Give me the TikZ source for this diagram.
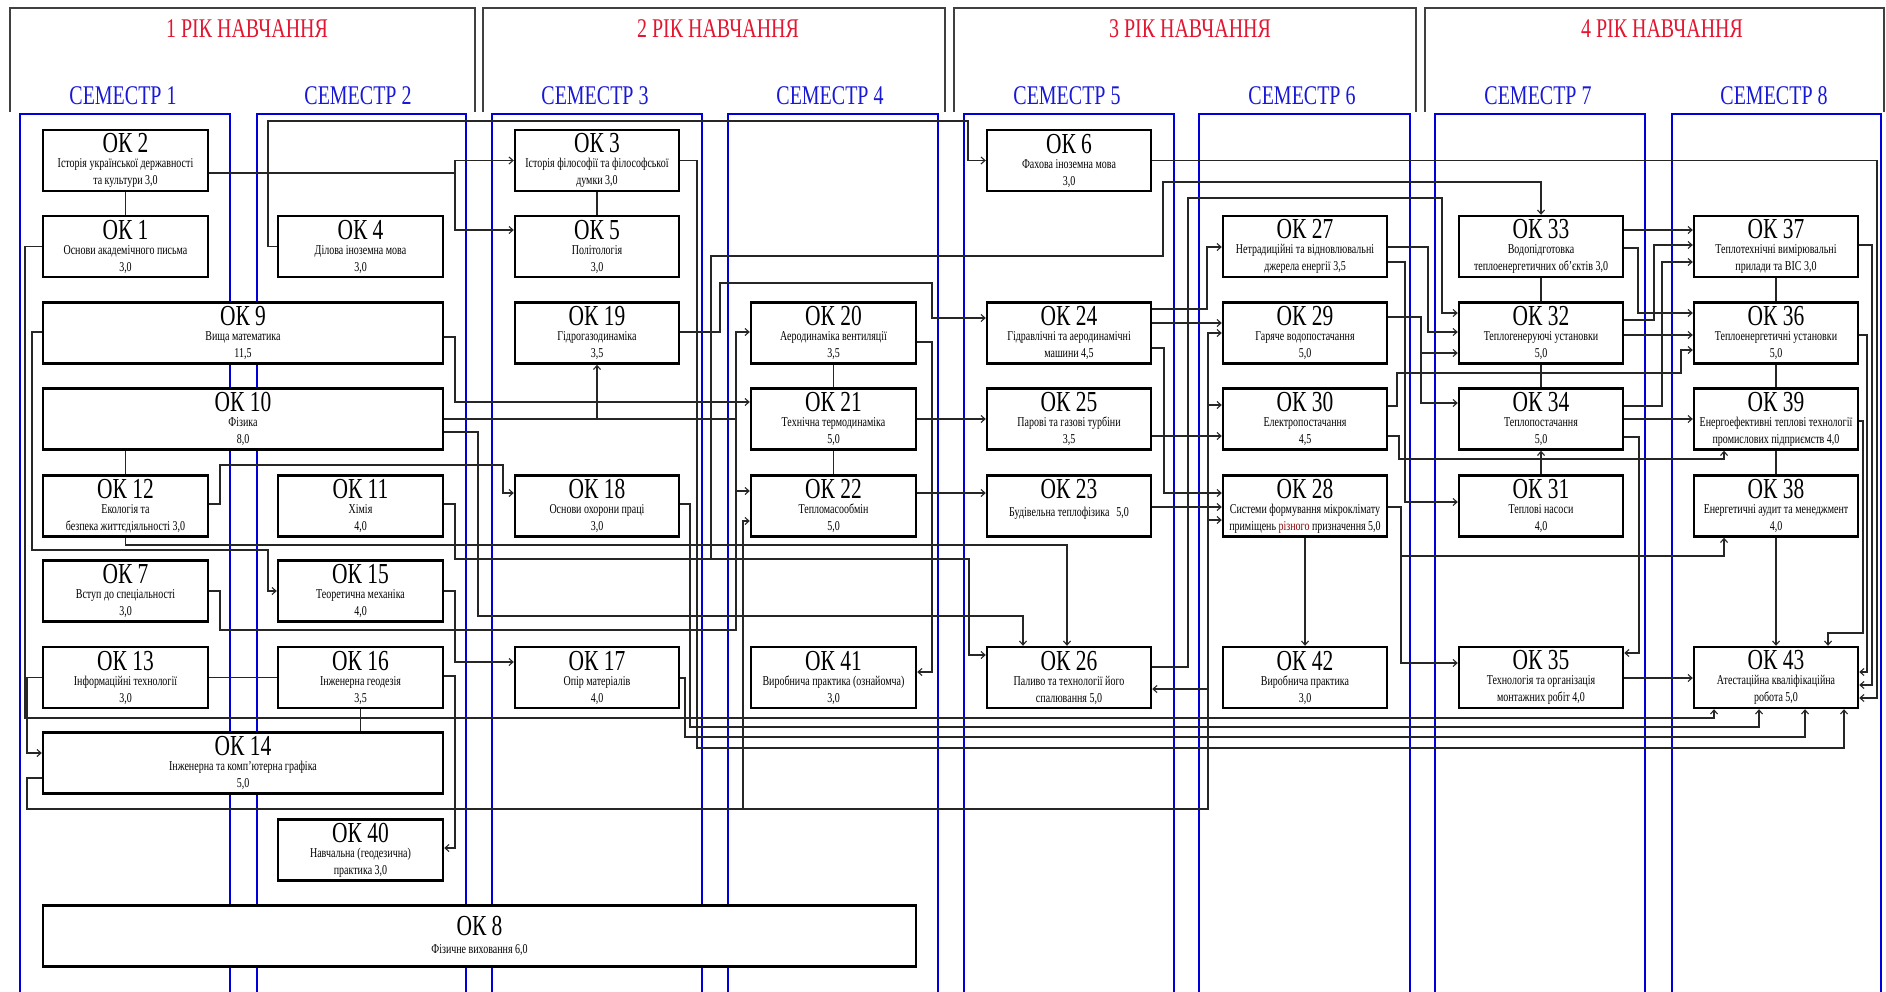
\documentclass[tikz,border=0pt]{standalone}
\usepackage{fontspec}
\setmainfont{Liberation Serif}[FakeStretch=0.74]
\usetikzlibrary{arrows.meta}

\definecolor{headred}{RGB}{226,22,48}
\definecolor{semblue}{RGB}{24,24,214}
\definecolor{frameblue}{RGB}{0,0,220}

\tikzset{
	okbox/.style={rectangle, draw, fill=white, line width=2.4pt, minimum height=61pt, inner sep=0pt, align=center, font=\fontsize{13.5}{17}\selectfont},
	link/.style={draw=black!85, line width=1.1pt},
	arr/.style={link, -{Straight Barb[length=4pt,width=7pt]}},
	semframe/.style={draw=frameblue, line width=2.6pt},
	yearframe/.style={draw=black!75, line width=1.2pt},
	yeartext/.style={anchor=base, inner sep=0pt, text=headred, font=\fontsize{27}{30}\selectfont},
	semtext/.style={anchor=base, inner sep=0pt, text=semblue, font=\fontsize{27}{30}\selectfont},
}
\newcommand\oktitle[1]{{\fontsize{29}{29}\selectfont #1}}

\begin{document}
\begin{tikzpicture}[x=1pt, y=-1pt]
\useasboundingbox (0,0) rectangle (1886,992);

\foreach \a/\b in {10/475, 483/945, 954/1416, 1425/1884}{
	\draw[yearframe] (\a,112) |- (\b,8) -- (\b,112);
}
\foreach \k/\x in {1/247, 2/718, 3/1190, 4/1662}{
	\node[yeartext] (year\k) at (\x,38) {\k\ РІК НАВЧАННЯ};
}
\foreach \a/\b in {20/230, 257/466, 492/702, 728/938, 964/1174, 1199/1410, 1435/1645, 1672/1881}{
	\draw[semframe] (\a,1000) |- (\b,114) -- (\b,1000);
}
\foreach \k/\x in {1/123, 2/358, 3/595, 4/830, 5/1067, 6/1302, 7/1538, 8/1774}{
	\node[semtext] (sem\k) at (\x,105) {СЕМЕСТР \k};
}

\foreach \n/\x/\y/\w/\a/\b in {
	2/125.5/160.5/165/{Історія української державності}/{та культури 3,0}%
	,1/125.5/246.5/165/{Основи академічного письма}/{3,0}%
	,4/360.5/246.5/165/{Ділова іноземна мова}/{3,0}%
	,9/243/333/400/{Вища математика}/{11,5}%
	,10/243/419/400/{Фізика}/{8,0}%
	,12/125.5/506/165/{Екологія та}/{безпека життєдіяльності 3,0}%
	,11/360.5/506/165/{Хімія}/{4,0}%
	,7/125.5/591/165/{Вступ до спеціальності}/{3,0}%
	,15/360.5/591/165/{Теоретична механіка}/{4,0}%
	,13/125.5/677.5/165/{Інформаційні технології}/{3,0}%
	,16/360.5/677.5/165/{Інженерна геодезія}/{3,5}%
	,14/243/763/400/{Інженерна та комп'ютерна графіка}/{5,0}%
	,40/360.5/850/165/{Навчальна (геодезична)}/{практика 3,0}%
	,3/597/160.5/164/{Історія філософії та філософської}/{думки 3,0}%
	,5/597/246.5/164/{Політологія}/{3,0}%
	,19/597/333/164/{Гідрогазодинаміка}/{3,5}%
	,20/833.5/333/165/{Аеродинаміка вентиляції}/{3,5}%
	,21/833.5/419/165/{Технічна термодинаміка}/{5,0}%
	,18/597/506/164/{Основи охорони праці}/{3,0}%
	,22/833.5/506/165/{Тепломасообмін}/{5,0}%
	,17/597/677.5/164/{Опір матеріалів}/{4,0}%
	,41/833.5/677.5/165/{Виробнича практика (ознайомча)}/{3,0}%
	,6/1069/160.5/164/{Фахова іноземна мова}/{3,0}%
	,27/1305/246.5/164/{Нетрадиційні та відновлювальні}/{джерела енергії 3,5}%
	,24/1069/333/164/{Гідравлічні та аеродинамічні}/{машини 4,5}%
	,29/1305/333/164/{Гаряче водопостачання}/{5,0}%
	,25/1069/419/164/{Парові та газові турбіни}/{3,5}%
	,30/1305/419/164/{Електропостачання}/{4,5}%
	,28/1305/506/164/{Системи формування мікроклімату}/{приміщень \textcolor{red!55!black}{різного} призначення 5,0}%
	,26/1069/677.5/164/{Паливо та технології його}/{спалювання 5,0}%
	,42/1305/677.5/164/{Виробнича практика}/{3,0}%
	,33/1541/246.5/164/{Водопідготовка}/{теплоенергетичних об'єктів 3,0}%
	,37/1776/246.5/164/{Теплотехнічні вимірювальні}/{прилади та ВІС 3,0}%
	,32/1541/333/164/{Теплогенеруючі установки}/{5,0}%
	,36/1776/333/164/{Теплоенергетичні установки}/{5,0}%
	,34/1541/419/164/{Теплопостачання}/{5,0}%
	,39/1776/419/164/{Енергоефективні теплові технології}/{промислових підприємств 4,0}%
	,31/1541/506/164/{Теплові насоси}/{4,0}%
	,38/1776/506/164/{Енергетичні аудит та менеджмент}/{4,0}%
	,35/1541/677.5/164/{Технологія та організація}/{монтажних робіт 4,0}%
	,43/1776/677.5/164/{Атестаційна кваліфікаційна}/{робота 5,0}%
}{
	\node[okbox, minimum width=\w] (ok\n) at (\x,\y) {\oktitle{ОК \n}\\[-2pt]\a\\\b};
}
\node[okbox, minimum width=164] (ok23) at (1069,506) {\oktitle{ОК 23}\\[1pt]Будівельна теплофізика\enspace 5,0\\\mbox{}};
\node[okbox, minimum width=873] (ok8) at (479.5,936) {\oktitle{ОК 8}\\[1pt]Фізичне виховання 6,0};

\foreach \u/\v in {ok2/ok1, ok3/ok5, ok20/ok21, ok21/ok22, ok33/ok32, ok32/ok34, ok37/ok36, ok36/ok39, ok39/ok38, ok13/ok16}{
	\draw[link] (\u) -- (\v);
}
\draw[link] (ok12.north |- ok10.south) -- (ok12.north);
\draw[link] (ok16.south) -- (ok16.south |- ok14.north);

\draw[arr] (ok2.east |- 0,173) -| (455,160.5) -- (ok3.west);
\draw[arr] (455,173) |- (ok5.west |- 0,230);
\draw[arr] (ok4.west) -| (268,121) -| (968,160.5) -- (ok6.west);
\draw[arr] (ok1.west) -| (25,718) -| (1714,0 |- ok43.south);
\draw[arr] (ok9.west |- 0,332) -| (32,550) -| (268,591) -- (ok15.west);
\draw[arr] (ok9.east |- 0,337) -| (455,402) -- (ok21.west |- 0,402);
\draw[arr] (ok10.east |- 0,419) -| (ok19.south);
\draw[link] (597,419) -- (736,419);
\draw[arr] (ok10.east |- 0,432) -| (478,616) -| (1023,0 |- ok26.north);
\draw[arr] (ok12.east |- 0,504) -| (220,465) -| (503,493) -- (ok18.west |- 0,493);
\draw[arr] (ok12.south) |- (1067,545) -- (1067,0 |- ok26.north);
\draw[arr] (ok11.east |- 0,504) -| (455,559) -| (969,655) -- (ok26.west |- 0,655);
\draw[arr] (711,559) |- (1163,256) |- (1541,182) -- (ok33.north);
\draw[arr] (ok7.east |- 0,591) -| (220,630) -| (736,332) -- (ok20.west |- 0,332);
\draw[arr] (736,491) -- (ok22.west |- 0,491);
\draw[arr] (ok13.west) -| (27,753) -- (ok14.west |- 0,753);
\draw[arr] (ok14.west |- 0,778) -| (27,809) -| (1208,333) -- (ok29.west |- 0,333);
\draw[arr] (743,809) |- (ok22.west |- 0,521);
\draw[arr] (1208,405) -- (ok30.west |- 0,405);
\draw[arr] (1208,520) -- (ok28.west |- 0,520);
\draw[arr] (1208,689) -- (ok26.east |- 0,689);
\draw[arr] (ok16.east |- 0,676) -| (455,848) -- (ok40.east |- 0,848);
\draw[arr] (ok15.east) -| (455,662) -- (ok17.west |- 0,662);
\draw[arr] (ok3.east) -| (697,748) -| (1844,0 |- ok43.south);
\draw[arr] (ok18.east |- 0,504) -| (690,727) -| (1759,0 |- ok43.south);
\draw[arr] (ok17.east |- 0,678) -| (685,737) -| (1805,0 |- ok43.south);
\draw[arr] (ok19.east |- 0,332) -| (720,283) -| (932,318) -- (ok24.west |- 0,318);
\draw[arr] (ok20.east |- 0,342) -| (932,672) -- (ok41.east |- 0,672);
\draw[arr] (ok21) -- (ok25);
\draw[arr] (ok22.east |- 0,493) -- (ok23.west |- 0,493);
\draw[arr] (ok24.east |- 0,309) -| (1207,247) -- (ok27.west |- 0,247);
\draw[arr] (ok24.east |- 0,323) -- (ok29.west |- 0,323);
\draw[arr] (ok24.east |- 0,348) -| (1164,493) -- (ok28.west |- 0,493);
\draw[arr] (ok25.east |- 0,436) -- (ok30.west |- 0,436);
\draw[arr] (ok23.east |- 0,507) -- (ok28.west |- 0,507);
\draw[arr] (ok28) -- (ok42);
\draw[arr] (ok28.east |- 0,507) -| (1401,663) -- (ok35.west |- 0,663);
\draw[arr] (1401,556) -| (1724,0 |- ok38.south);
\draw[arr] (ok30.east |- 0,406) -| (1397,373) -| (1681,350) -- (ok36.west |- 0,350);
\draw[arr] (ok30.east |- 0,436) -| (1399,459) -| (1724,0 |- ok39.south);
\draw[arr] (ok26.east |- 0,667) -| (1188,198) -| (1442,313) -- (ok32.west |- 0,313);
\draw[arr] (ok27.east |- 0,247) -| (1428,332) -- (ok32.west |- 0,332);
\draw[arr] (ok27.east |- 0,262) -| (1405,502) -- (ok31.west |- 0,502);
\draw[arr] (ok29.east |- 0,317) -| (1421,403) -- (ok34.west |- 0,403);
\draw[arr] (1421,353) -- (ok32.west |- 0,353);
\draw[arr] (ok33.east |- 0,230) -- (ok37.west |- 0,230);
\draw[arr] (ok33.east |- 0,248) -| (1638,313) -- (ok36.west |- 0,313);
\draw[arr] (ok32.east |- 0,320) -| (1654,245) -- (ok37.west |- 0,245);
\draw[arr] (ok32.east |- 0,335) -- (ok36.west |- 0,335);
\draw[arr] (ok34.east |- 0,406) -| (1662,262) -- (ok37.west |- 0,262);
\draw[arr] (ok34) -- (ok39);
\draw[arr] (ok34.east |- 0,437) -| (1639,653) -- (ok35.east |- 0,653);
\draw[arr] (ok31) -- (ok34);
\draw[arr] (ok38) -- (ok43);
\draw[arr] (ok39.east |- 0,421) -| (1863,633) -| (1828,0 |- ok43.north);
\draw[arr] (ok35.east |- 0,678) -- (ok43.west |- 0,678);
\draw[arr] (ok36.east |- 0,335) -| (1867,672) -- (ok43.east |- 0,672);
\draw[arr] (ok37.east |- 0,245) -| (1872,685) -- (ok43.east |- 0,685);
\draw[arr] (ok6.east) -| (1877,698) -- (ok43.east |- 0,698);
\end{tikzpicture}
\end{document}
